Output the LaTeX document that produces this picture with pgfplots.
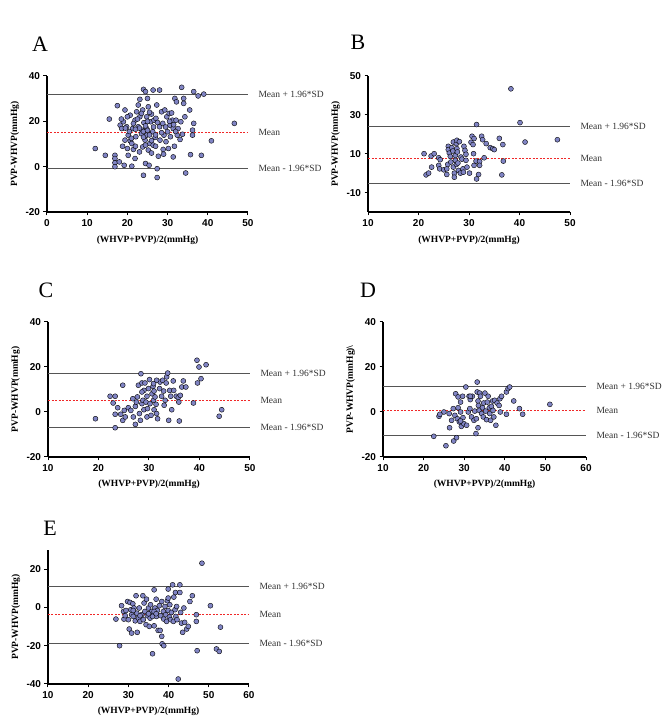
\documentclass[border=0pt]{standalone}
\usepackage{pgfplots}
\pgfplotsset{compat=1.18}
\usepackage{fontspec}
\setmainfont{Liberation Serif}
\newfontfamily\arialfont{Liberation Sans}
\definecolor{ptfill}{RGB}{128,132,196}
\definecolor{refgray}{RGB}{85,85,85}
\definecolor{txtgray}{RGB}{50,50,50}
\definecolor{mnred}{RGB}{240,40,40}
\pgfplotsset{
 ba/.style={scale only axis, clip=false, axis x line*=bottom, axis y line*=left,
  axis line style={line width=1.2pt, black},
  tick style={line width=1pt, black}, major tick length=3.5pt, tick align=outside,
  /pgf/number format/assume math mode=true,
  tick label style={font=\arialfont\bfseries\fontsize{10}{12}\selectfont},
  xlabel={(WHVP+PVP)/2(mmHg)}, ylabel={PVP-WHVP(mmHg)},
  label style={font=\bfseries\fontsize{9.5}{11}\selectfont},
  xlabel style={at={(axis description cs:0.5,-0.205)}, anchor=center},
  ylabel style={at={(axis description cs:-0.16,0.5)}, anchor=center},
 },
 pts/.style={only marks, mark=*, mark size=2.5pt, mark options={fill=ptfill, draw=black, line width=0.4pt}},
 lim/.style={refgray, line width=0.8pt},
 mn/.style={draw=mnred, color=mnred, line width=0.8pt, dash pattern=on 2pt off 1.5pt},
}
\newcommand{\lab}[3]{\node[anchor=west, xshift=7pt, text=txtgray, font=\fontsize{9.5}{11}\selectfont] at (axis cs:#1,#2) {#3};}
\begin{document}
\begin{tikzpicture}
\useasboundingbox (0,0) rectangle (669pt,728pt);
% letters
\node[font=\fontsize{22}{24}\selectfont] at (40pt,684pt) {A};
\node[font=\fontsize{22}{24}\selectfont] at (358pt,686pt) {B};
\node[font=\fontsize{22}{24}\selectfont] at (46pt,438pt) {C};
\node[font=\fontsize{22}{24}\selectfont] at (368pt,438pt) {D};
\node[font=\fontsize{22}{24}\selectfont] at (50pt,200pt) {E};
% ---------------- A
\begin{axis}[ba, at={(47pt,652pt)}, anchor=north west, width=201pt, height=136pt,
  xmin=0, xmax=50, ymin=-20, ymax=40, xtick={0,10,...,50}, ytick={-20,0,20,40}]
\addplot[lim] coordinates {(0,32) (50,32)};
\addplot[lim] coordinates {(0,-0.9) (50,-0.9)};
\addplot[mn] coordinates {(0,15.3) (50,15.3)};
\addplot[pts] coordinates {
(12.0,8.0) (14.5,5.0) (15.5,21.0) (17.5,26.9) (16.9,5.0) (16.9,3.6) (16.9,1.7) (16.9,0) (18.0,2.1) (19.2,0.6)
(21.1,0.2) (18.2,18.3) (18.6,16.8) (18.8,9.0) (19.4,11.7) (19.0,19.8) (19.4,25) (19.8,17.6) (20.2,13.9) (20.0,8.0)
(20.2,5.0) (20.7,22.7) (20.7,11.4) (21.1,10.2) (21.3,16.8) (21.5,7.6) (21.9,3.6) (21.9,20.5) (22.1,13.2) (22.3,24.2)
(22.7,27.2) (22.7,17.6) (23.1,29.7) (23.1,22.0) (23.6,16.1) (23.8,25.0) (23.8,8.7) (24.0,34.1) (24.0,-3.8) (24.1,19.4)
(24.4,11.7) (24.5,1.4) (24.5,33.1) (24.8,22.0) (24.8,13.9) (24.8,16.8) (25.0,30.1) (25.2,26.4) (25.2,7.3) (25.4,0.6)
(25.6,10.2) (25.8,19.8) (26.0,23.2) (26.3,15.4) (26.4,33.8) (26.4,9.5) (26.6,20.5) (26.9,12.9) (27.1,21.3) (27.3,27.2)
(27.4,-0.9) (27.4,-4.8) (27.7,4.6) (28.0,33.8) (28.0,17.6) (28.1,11.7) (28.5,24.2) (28.8,19.1) (28.9,7.6) (29.1,13.9)
(29.3,25.0) (29.6,11.0) (29.8,22.0) (30.0,15.4) (30.2,8.0) (30.4,23.5) (30.6,18.3) (30.7,13.2) (31.0,23.7) (31.2,20.5)
(31.4,16.8) (31.4,4.3) (31.7,9.0) (31.8,30.1) (32.1,20.5) (32.2,28.6) (32.4,13.9) (32.6,16.8) (33.1,12.0) (33.3,19.8)
(33.5,35.0) (33.7,14.3) (34.0,30.1) (34.0,27.9) (34.3,22.0) (34.5,-2.8) (35.5,25.0) (35.7,5.3) (36.2,16.1) (36.2,13.9)
(36.5,19.1) (36.5,33.1) (37.6,31.2) (38.4,5.0) (39.0,32.0) (40.9,11.4) (46.6,19.1)
(23.0,17.0) (23.5,14.5) (24.0,15.5) (24.5,18.0) (25.0,16.0) (25.5,14.0) (22.0,16.5) (21.5,19.0) (26.5,17.5) (27.0,14.0)
(24.0,13.0) (25.0,20.0) (22.5,21.0) (20.5,15.5) (19.5,17.0) (21.0,12.5) (26.0,11.5) (28.5,15.0) (27.5,19.5) (23.5,23.5)
(25.5,24.0) (29.5,17.5) (30.5,20.0) (31.5,18.5) (32.0,15.5) (20.0,22.0) (18.5,21.0) (22.0,9.0) (23.0,6.5) (26.0,6.0)
(29.0,5.5) (24.5,9.5) (27.0,9.0)};
\lab{50}{32}{Mean + 1.96*SD}
\lab{50}{15.3}{Mean}
\lab{50}{-0.9}{Mean - 1.96*SD}
\end{axis}
% ---------------- B
\begin{axis}[ba, at={(368pt,652pt)}, anchor=north west, width=202pt, height=136pt,
  xmin=10, xmax=50, ymin=-20, ymax=50, xtick={10,20,...,50}, ytick={-10,10,30,50}]
\addplot[lim] coordinates {(10,24) (50,24)};
\addplot[lim] coordinates {(10,-5.2) (50,-5.2)};
\addplot[mn] coordinates {(10,7.4) (50,7.4)};
\addplot[pts] coordinates {
(38.3,43.4) (40.1,26.0) (31.5,25.0) (47.5,17.2) (41.1,16.0) (36.0,17.9) (36.7,14.7) (36.8,6.2) (36.5,-0.9) (21.1,10.0)
(21.5,-0.9) (22.0,0.0) (22.5,8.8) (23.1,10.0) (22.6,3.1) (24.0,7.9) (24.3,6.9) (24.0,4.0) (24.2,2.2) (25.0,1.7)
(25.6,-0.7) (25.6,2.2) (25.8,4.5) (25.9,13.8) (25.9,12.1) (26.1,10.3) (26.3,8.6) (26.6,13.1) (26.8,11.4) (26.9,16.0)
(26.9,3.1) (27.1,0.0) (27.1,-2.1) (27.3,6.6) (27.3,9.1) (27.5,15.2) (27.6,16.9) (27.6,12.6) (27.7,10.9) (27.9,1.4)
(28.1,16.2) (28.3,0.0) (28.4,8.3) (28.6,7.2) (28.8,2.2) (28.9,0.5) (29.0,13.8) (29.2,11.7) (29.4,9.7) (29.4,6.6)
(29.6,3.1) (30.1,0.0) (30.4,15.9) (30.6,19.0) (30.8,14.7) (30.9,10.0) (31.0,17.8) (31.0,4.0) (31.4,6.2) (31.5,-3.0)
(31.9,-0.7) (32.1,6.0) (32.1,4.0) (32.5,19.0) (32.7,17.2) (33.0,7.9) (33.4,15.2) (34.2,13.1) (34.7,12.6) (35.0,12.1)
(27.5,4.5) (27.8,5.2) (26.4,5.7)};
\lab{50}{24}{Mean + 1.96*SD}
\lab{50}{7.4}{Mean}
\lab{50}{-5.2}{Mean - 1.96*SD}
\end{axis}
% ---------------- C
\begin{axis}[ba, at={(48pt,406pt)}, anchor=north west, width=202pt, height=135pt,
  xmin=10, xmax=50, ymin=-20, ymax=40, xtick={10,20,...,50}, ytick={-20,0,20,40}]
\addplot[lim] coordinates {(10,17.3) (50,17.3)};
\addplot[lim] coordinates {(10,-7.0) (50,-7.0)};
\addplot[mn] coordinates {(10,5.0) (50,5.0)};
\addplot[pts] coordinates {
(19.4,-3.0) (22.3,7.0) (23.3,7.0) (22.9,4.0) (23.3,-1.0) (23.3,-7.0) (23.8,1.9) (24.8,11.9) (24.4,-1.0) (24.8,-3.7)
(25.1,0.7) (25.3,-2.2) (25.9,1.9) (26.4,0.7) (26.8,5.9) (26.9,-2.2) (27.3,-5.5) (27.3,2.5) (27.5,4.4) (27.7,6.7)
(28.1,-0.7) (28.3,-3.7) (27.9,11.9) (28.4,17.0) (28.6,12.9) (28.6,3.7) (28.8,5.2) (29.0,1.0) (29.0,9.6) (29.2,12.9)
(29.4,4.4) (29.6,-2.2) (29.7,1.5) (29.9,10.4) (30.1,14.4) (30.2,3.7) (30.4,-1.5) (30.6,8.1) (30.8,11.4) (30.9,5.2)
(31.0,1.0) (31.0,9.3) (31.2,6.7) (31.4,3.4) (31.5,-0.7) (31.7,-3.0) (32.1,10.4) (32.2,13.3) (32.5,7.0) (32.7,14.1)
(32.9,9.3) (33.0,3.0) (33.2,5.2) (33.4,12.9) (33.5,15.6) (33.7,17.3) (33.9,-3.7) (34.1,9.6) (34.3,7.0) (34.5,1.0)
(34.8,13.8) (34.9,9.6) (35.4,7.0) (35.8,6.4) (35.9,4.4) (36.0,-4.0) (36.2,7.4) (36.5,11.1) (36.8,13.8) (37.3,11.1)
(38.8,4.0) (39.5,23.0) (39.6,12.9) (39.9,20.0) (40.3,14.8) (41.3,21.0) (43.9,-1.9) (44.4,1.0) (31.5,14.1) (30.9,12.6)
(28.6,8.9) (29.6,7.0)};
\lab{50}{17.3}{Mean + 1.96*SD}
\lab{50}{5.0}{Mean}
\lab{50}{-7.0}{Mean - 1.96*SD}
\end{axis}
% ---------------- D
\begin{axis}[ba, at={(383pt,406pt)}, anchor=north west, width=203pt, height=135pt,
  xmin=10, xmax=60, ymin=-20, ymax=40, xtick={10,20,...,60}, ytick={-20,0,20,40},
  ylabel={PVP-WHVP(mmHg)\textbackslash}]
\addplot[lim] coordinates {(10,11.3) (60,11.3)};
\addplot[lim] coordinates {(10,-10.5) (60,-10.5)};
\addplot[mn] coordinates {(10,0.6) (60,0.6)};
\addplot[pts] coordinates {
(22.5,-10.8) (23.8,-1.9) (25.0,0.0) (25.5,-15.0) (26.3,-0.7) (26.4,-7.0) (26.9,-3.7) (27.3,1.5) (27.4,-12.9) (27.7,-1.5)
(27.9,8.1) (28.1,-11.4) (28.3,-3.0) (28.5,1.9) (28.5,6.7) (28.8,-4.4) (29.1,4.4) (29.1,0.0) (29.3,-6.4) (29.6,7.0)
(29.7,-2.5) (29.9,-5.2) (30.4,11.1) (30.6,-5.9) (31.0,0.0) (31.2,7.0) (31.4,1.5) (31.5,5.5) (31.8,-2.2) (32.0,7.0)
(32.4,-3.7) (32.6,0.4) (32.9,-9.6) (33.0,-3.0) (33.2,13.3) (33.2,8.9) (33.4,4.9) (33.4,-7.0) (33.5,2.9) (33.7,0.7)
(33.8,8.4) (34.0,7.0) (34.3,-0.7) (34.5,1.9) (34.7,-2.2) (34.8,4.0) (35.1,8.4) (35.3,0.4) (35.5,-3.4) (35.7,4.4)
(35.9,7.0) (36.2,1.9) (36.3,-0.7) (36.5,-3.7) (36.7,2.5) (37.0,4.9) (37.1,0.7) (37.3,-2.2) (37.5,5.2) (37.8,-5.9)
(38.1,4.0) (38.6,2.9) (38.8,5.9) (38.9,0.0) (39.2,7.0) (40.4,-1.0) (40.4,8.9) (40.8,10.4) (41.2,11.1) (42.2,4.9)
(43.6,1.5) (44.4,-1.0) (51.1,3.4) (24.0,-1.0) (31.5,7.0) (29.1,-4.0)};
\lab{60}{11.3}{Mean + 1.96*SD}
\lab{60}{0.6}{Mean}
\lab{60}{-10.5}{Mean - 1.96*SD}
\end{axis}
% ---------------- E
\begin{axis}[ba, at={(48pt,178pt)}, anchor=north west, width=201pt, height=134pt,
  xmin=10, xmax=60, ymin=-40, ymax=30, xtick={10,20,...,60}, ytick={-40,-20,0,20}]
\addplot[lim] coordinates {(10,11.1) (60,11.1)};
\addplot[lim] coordinates {(10,-18.8) (60,-18.8)};
\addplot[mn] coordinates {(10,-3.8) (60,-3.8)};
\addplot[pts] coordinates {
(26.9,-6.1) (27.8,-20.0) (28.3,0.9) (28.8,-2.1) (28.9,-6.1) (29.4,-1.6) (29.8,3.1) (30.0,-6.4) (30.2,-11.3) (30.4,2.6)
(30.6,-1.2) (30.8,-3.8) (30.8,-13.4) (31.1,1.9) (31.2,-4.7) (31.4,-0.3) (31.7,-7.0) (31.9,6.1) (32.1,-3.0) (32.2,-13.0)
(32.5,-5.6) (32.7,-0.3) (32.9,-7.3) (33.3,-3.8) (33.6,6.1) (33.7,-6.4) (33.9,2.3) (34.1,-2.1) (34.4,-9.0) (34.5,4.3)
(34.7,-4.3) (35.0,-0.3) (35.2,-9.9) (35.4,-5.6) (35.5,1.4) (35.8,-2.1) (36.0,-24.2) (36.2,-3.8) (36.4,9.2) (36.4,-9.6)
(36.6,-0.3) (36.9,4.3) (37.0,-4.7) (37.2,-1.6) (37.4,-12.0) (37.7,0.9) (37.9,-12.0) (38.0,-4.3) (38.3,3.1) (38.3,-15.1)
(38.4,-19.0) (38.7,-2.1) (38.8,-20.0) (38.8,-6.1) (39.1,0.5) (39.3,-3.8) (39.5,-7.3) (39.7,3.5) (39.9,9.6) (39.9,-1.6)
(40.2,-5.0) (40.3,1.4) (40.5,-6.4) (40.7,-2.6) (41.0,11.8) (41.2,-7.3) (41.3,5.4) (41.6,-1.2) (41.7,7.8) (41.8,-4.7)
(42.0,0.5) (42.1,-6.4) (42.4,-37.4) (42.8,11.8) (42.8,7.8) (43.0,-2.6) (43.2,-8.2) (43.5,-13.0) (43.8,-0.3) (44.0,-7.8)
(44.5,-11.3) (44.9,-9.9) (45.3,3.1) (45.9,6.1) (46.9,-3.8) (46.9,-7.3) (47.1,-22.6) (48.3,23.1) (50.4,0.9) (51.9,-21.7)
(52.6,-23.0) (52.9,-10.3) (36.0,-4.7) (36.4,-2.1) (36.9,-3.3) (35.0,-3.3) (32.9,-4.3) (31.2,-1.6) (29.2,-4.3) (39.9,4.9)};
\lab{60}{11.1}{Mean + 1.96*SD}
\lab{60}{-3.8}{Mean}
\lab{60}{-18.8}{Mean - 1.96*SD}
\end{axis}
\end{tikzpicture}
\end{document}
